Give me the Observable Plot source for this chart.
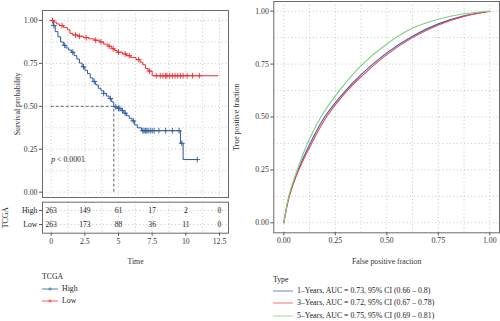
<!DOCTYPE html>
<html><head><meta charset="utf-8">
<script src="https://cdn.jsdelivr.net/npm/d3@7"></script>
<script src="https://cdn.jsdelivr.net/npm/@observablehq/plot@0.6"></script>
<style>
body{margin:0;background:#fff;}
#root{position:relative;width:500px;height:321px;background:#fff;overflow:hidden;font-family:"Liberation Serif",serif;}
.p{position:absolute;}
.lg{position:absolute;font-family:"Liberation Serif",serif;font-size:7.8px;color:#222;white-space:nowrap;line-height:10px;}
</style></head>
<body><div id="root"></div>
<script>
// ---------- Data ----------
const kmGroups = ["High", "Low"];
const kmColors = ["#2C5A9C", "#EE2A2E"];
const kmHighTime = [0, 0.15, 0.3, 0.5, 0.7, 0.9, 1.1, 1.3, 1.5, 1.7, 1.9, 2.1, 2.3, 2.5, 2.7, 2.9, 3.1, 3.3, 3.5, 3.7, 3.9, 4.1, 4.3, 4.5, 4.65, 4.9, 5.2, 5.4, 5.6, 5.8, 6.0, 6.2, 6.4, 6.7, 9.6, 9.8, 10.85];
const kmHighSurv = [1.0, 0.97, 0.935, 0.905, 0.875, 0.855, 0.84, 0.828, 0.815, 0.795, 0.775, 0.752, 0.73, 0.71, 0.69, 0.665, 0.645, 0.625, 0.605, 0.59, 0.575, 0.56, 0.545, 0.525, 0.497, 0.488, 0.475, 0.46, 0.445, 0.43, 0.415, 0.392, 0.375, 0.358, 0.285, 0.19, 0.19];
const kmLowTime = [0, 0.2, 0.4, 0.6, 0.9, 1.2, 1.4, 1.6, 2.0, 2.4, 2.8, 3.2, 3.6, 3.9, 4.2, 4.5, 4.7, 4.9, 5.3, 5.6, 5.9, 6.3, 6.6, 6.8, 7.0, 7.2, 7.5, 12.4];
const kmLowSurv = [1.0, 0.99, 0.98, 0.97, 0.96, 0.945, 0.925, 0.915, 0.908, 0.9, 0.893, 0.885, 0.875, 0.862, 0.85, 0.835, 0.825, 0.815, 0.805, 0.795, 0.785, 0.772, 0.757, 0.742, 0.72, 0.705, 0.678, 0.678];
const kmHighCensor = [0.2, 1.0, 1.6, 2.4, 3.2, 3.9, 4.4, 4.8, 5.0, 5.1, 5.3, 5.5, 6.1, 6.8, 6.9, 7.0, 7.1, 7.2, 7.35, 7.5, 7.65, 8.0, 8.5, 9.0, 9.5, 9.7, 10.85];
const kmLowCensor = [0.1, 0.8, 1.8, 2.1, 2.6, 3.3, 3.7, 4.3, 4.6, 5.0, 5.5, 5.8, 6.5, 7.3, 7.8, 8.1, 8.3, 8.5, 8.6, 8.8, 9.0, 9.2, 9.4, 9.6, 9.8, 10.1, 10.5, 11.0];
const medianTime = 4.65, medianSurv = 0.5;
const pText = "p < 0.0001", pTime = 0, pSurv = 0.19;
const riskTimes = [0, 2.5, 5, 7.5, 10, 12.5];
const riskHigh = [263, 149, 61, 17, 2, 0];
const riskLow = [263, 173, 88, 36, 11, 0];
const kmXTicks = [0, 2.5, 5, 7.5, 10, 12.5];
const kmXGrid = [0, 1.25, 2.5, 3.75, 5, 6.25, 7.5, 8.75, 10, 11.25, 12.5];
const probTicks = [0, 0.25, 0.5, 0.75, 1];
const probGrid = [0, 0.125, 0.25, 0.375, 0.5, 0.625, 0.75, 0.875, 1];

const rocYears = [1, 3, 5];
const rocAUC = [0.73, 0.72, 0.75];
const rocCILow = [0.66, 0.67, 0.69];
const rocCIHigh = [0.8, 0.78, 0.81];
const rocColors = ["#3F5FAE", "#E8484E", "#7ED07E"];
const roc1FPR = [0, 0.026, 0.07, 0.128, 0.198, 0.3, 0.375, 0.5, 0.625, 0.75, 0.875, 1];
const roc1TPR = [0, 0.125, 0.25, 0.375, 0.5, 0.625, 0.7, 0.803, 0.882, 0.94, 0.978, 1];
const roc3FPR = [0, 0.027, 0.073, 0.135, 0.207, 0.308, 0.375, 0.5, 0.625, 0.75, 0.875, 1];
const roc3TPR = [0, 0.125, 0.25, 0.375, 0.5, 0.625, 0.69, 0.795, 0.875, 0.935, 0.975, 1];
const roc5FPR = [0, 0.024, 0.065, 0.115, 0.18, 0.27, 0.375, 0.5, 0.625, 0.75, 0.875, 1];
const roc5TPR = [0, 0.125, 0.25, 0.375, 0.5, 0.625, 0.743, 0.845, 0.92, 0.962, 0.988, 1];

// ---------- Build ----------
const FONT = "Liberation Serif";
const root = document.getElementById("root");
function place(el, left, top) { el.classList.add("p"); el.style.left = left + "px"; el.style.top = top + "px"; root.appendChild(el); }
const grid = {stroke: "#b8b8b8", strokeDasharray: "1,2.6", strokeWidth: 0.8};
const frameStyle = {stroke: "#6a6a6a", strokeWidth: 1};

function survAt(times, survs, t) { let s = survs[0]; for (let i = 0; i < times.length; i++) if (times[i] <= t) s = survs[i]; return s; }
const kmLines = [];
[[kmHighTime, kmHighSurv, "High"], [kmLowTime, kmLowSurv, "Low"]].forEach(([T, S, g]) => T.forEach((t, i) => kmLines.push({t, s: S[i], g})));
const kmCens = [];
[[kmHighCensor, kmHighTime, kmHighSurv, "High"], [kmLowCensor, kmLowTime, kmLowSurv, "Low"]].forEach(([C, T, S, g]) => C.forEach(t => kmCens.push({t, s: survAt(T, S, t), g})));
const kmX = {domain: [-0.646, 13.17]};
const colorScale = {domain: kmGroups, range: kmColors};

const km = Plot.plot({
  width: 250, height: 200, marginLeft: 42, marginRight: 22, marginTop: 10, marginBottom: 3,
  style: {fontFamily: FONT, fontSize: "7.6px", background: "transparent", color: "#333"},
  x: {...kmX, axis: null},
  y: {domain: [-0.031, 1.058]},
  color: colorScale,
  marks: [
    Plot.ruleY(probGrid, grid),
    Plot.ruleX(kmXGrid, grid),
    Plot.frame(frameStyle),
    Plot.axisY({ticks: probTicks, tickFormat: d3.format(".2f"), tickSize: 3, tickPadding: 2, stroke: "#555",
      label: "Survival probability", labelAnchor: "center", labelArrow: "none", labelOffset: 28, fontSize: 7.8}),
    Plot.ruleY([medianSurv], {x1: 0, x2: medianTime, stroke: "#555", strokeDasharray: "3,2", strokeWidth: 0.9}),
    Plot.ruleX([medianTime], {y1: 0, y2: medianSurv, stroke: "#555", strokeDasharray: "3,2", strokeWidth: 0.9}),
    Plot.line(kmLines, {x: "t", y: "s", z: "g", stroke: "g", curve: "step-after", strokeWidth: 1}),
    Plot.dot(kmCens, {x: "t", y: "s", stroke: "g", symbol: "plus", r: 2, strokeWidth: 0.9}),
    Plot.text([pText], {x: pTime, y: pSurv, textAnchor: "start", fontSize: 7.8, fill: "#222"})
  ]
});
km.querySelectorAll("text").forEach(el => { if (el.textContent === pText) el.innerHTML = '<tspan font-style="italic">p</tspan> &lt; 0.0001'; });
place(km, 0, 0);

const riskRows = [];
riskTimes.forEach((t, i) => { riskRows.push({t, g: "High", n: riskHigh[i]}); riskRows.push({t, g: "Low", n: riskLow[i]}); });
const risk = Plot.plot({
  width: 250, height: 80, marginLeft: 42, marginRight: 22, marginTop: 11.7, marginBottom: 37.3,
  style: {fontFamily: FONT, fontSize: "7.6px", background: "transparent", color: "#333"},
  x: kmX,
  y: {type: "point", domain: kmGroups, padding: 0.6},
  marks: [
    Plot.ruleX(kmXGrid, grid),
    Plot.ruleY(kmGroups, grid),
    Plot.frame(frameStyle),
    Plot.axisY({tickSize: 3, tickPadding: 2, stroke: "#555", fill: "#222", fontSize: 7.8,
      label: "TCGA", labelAnchor: "center", labelArrow: "none", labelOffset: 40}),
    Plot.axisX({ticks: kmXTicks, tickFormat: d => String(d), tickSize: 3, tickPadding: 2, stroke: "#555",
      label: "Time", labelAnchor: "center", labelArrow: "none", labelOffset: 31, fontSize: 7.8}),
    Plot.text(riskRows, {x: "t", y: "g", text: "n", fill: "#222", fontSize: 7.6})
  ]
});
place(risk, 0, 190);

const rocData = [];
[[roc1FPR, roc1TPR], [roc3FPR, roc3TPR], [roc5FPR, roc5TPR]].forEach(([F, T], k) => F.forEach((f, i) => rocData.push({f, tp: T[i], k: rocYears[k] + "-Years"})));
const rocNames = rocYears.map(y => y + "-Years");
const roc = Plot.plot({
  width: 272, height: 270, marginLeft: 45.3, marginRight: 1, marginTop: 1, marginBottom: 37.7,
  style: {fontFamily: FONT, fontSize: "7.6px", background: "transparent", color: "#333"},
  x: {domain: [-0.0485, 1.0471]},
  y: {domain: [-0.0473, 1.0458]},
  color: {domain: rocNames, range: rocColors},
  marks: [
    Plot.ruleY(probGrid, grid),
    Plot.ruleX(probGrid, grid),
    Plot.frame(frameStyle),
    Plot.axisY({ticks: probTicks, tickFormat: d3.format(".2f"), tickSize: 3, tickPadding: 2, stroke: "#555",
      label: "True positive fraction", labelAnchor: "center", labelArrow: "none", labelOffset: 40, fontSize: 7.8}),
    Plot.axisX({ticks: probTicks, tickFormat: d3.format(".2f"), tickSize: 3, tickPadding: 2, stroke: "#555",
      label: "False positive fraction", labelAnchor: "center", labelArrow: "none", labelOffset: 31, fontSize: 7.8}),
    Plot.line(rocData, {x: "f", y: "tp", z: "k", stroke: "k", curve: "catmull-rom", strokeWidth: 1.1})
  ]
});
place(roc, 228, 0);

// ---------- Legends ----------
function legendTitle(text, left, top) { const d = document.createElement("div"); d.className = "lg"; d.textContent = text; d.style.left = left + "px"; d.style.top = top + "px"; root.appendChild(d); }
function legendItem(label, color, left, top, w, plus) {
  const d = document.createElement("div"); d.className = "lg"; d.style.left = left + "px"; d.style.top = top + "px";
  d.style.display = "flex"; d.style.alignItems = "center";
  const ns = "http://www.w3.org/2000/svg";
  const s = document.createElementNS(ns, "svg"); s.setAttribute("width", w); s.setAttribute("height", 10);
  const l = document.createElementNS(ns, "line"); l.setAttribute("x1", 0); l.setAttribute("x2", w); l.setAttribute("y1", 5); l.setAttribute("y2", 5);
  l.setAttribute("stroke", color); l.setAttribute("stroke-width", 1.4); l.setAttribute("stroke-opacity", 0.55); s.appendChild(l);
  if (plus) { const p = document.createElementNS(ns, "path"); const c = w / 2; p.setAttribute("d", `M${c - 2},5H${c + 2}M${c},3V7`); p.setAttribute("stroke", color); p.setAttribute("stroke-opacity", 0.7); p.setAttribute("stroke-width", 0.8); s.appendChild(p); }
  const t = document.createElement("span"); t.textContent = label; t.style.marginLeft = "4px";
  d.appendChild(s); d.appendChild(t); root.appendChild(d);
}
legendTitle("TCGA", 42, 272);
kmGroups.forEach((g, i) => legendItem(g, kmColors[i], 42, 283.7 + i * 12.3, 16, true));
legendTitle("Type", 273, 275);
rocYears.forEach((y, i) => legendItem(`${y}–Years, AUC = ${rocAUC[i]}, 95% CI (${rocCILow[i]} – ${rocCIHigh[i]})`, rocColors[i], 273, 285.7 + i * 12.65, 20, false));
</script></body></html>
